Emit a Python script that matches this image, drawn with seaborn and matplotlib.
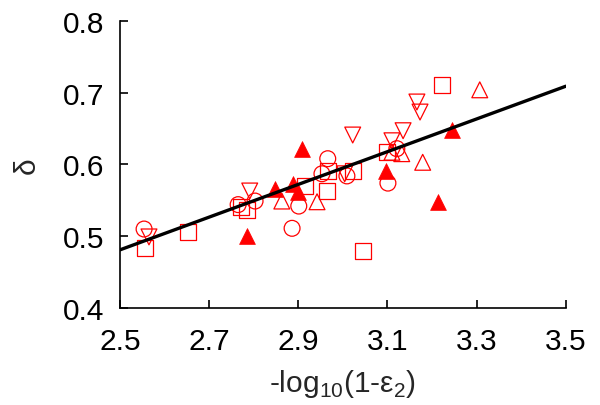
import matplotlib
matplotlib.use("Agg")
import matplotlib.pyplot as plt
import seaborn as sns
import numpy as np

# ---- data ----
circle_x = [2.554, 2.765, 2.803, 2.886, 2.901, 2.953, 2.966, 3.009, 3.101, 3.121]
circle_y = [0.510, 0.544, 0.549, 0.511, 0.542, 0.587, 0.608, 0.584, 0.574, 0.622]

square_x = [2.556, 2.652, 2.771, 2.785, 2.915, 2.964, 2.966, 3.022, 3.099, 3.045, 3.222]
square_y = [0.484, 0.506, 0.541, 0.537, 0.570, 0.563, 0.591, 0.591, 0.617, 0.479, 0.711]

down_x = [2.565, 2.791, 3.022, 3.110, 3.135, 3.166, 3.173, 3.004]
down_y = [0.499, 0.563, 0.641, 0.633, 0.647, 0.687, 0.673, 0.587]

up_x = [2.863, 2.942, 3.110, 3.132, 3.179, 3.307]
up_y = [0.549, 0.548, 0.617, 0.615, 0.603, 0.704]

filled_x = [2.785, 2.848, 2.888, 2.899, 2.908, 3.096, 3.213, 3.244]
filled_y = [0.500, 0.566, 0.573, 0.562, 0.622, 0.591, 0.548, 0.648]

fit_x = [2.5, 3.5]
fit_y = [0.481, 0.709]

x_ticks = [2.5, 2.7, 2.9, 3.1, 3.3, 3.5]
y_ticks = [0.4, 0.5, 0.6, 0.7, 0.8]

sns.set_theme(style="ticks")
plt.rcParams['font.family'] = ['Liberation Sans', 'DejaVu Sans']
plt.rcParams['mathtext.fontset'] = 'custom'
plt.rcParams['mathtext.rm'] = 'Liberation Sans'

fig = plt.figure(figsize=(6.0, 4.06), dpi=100)
ax = fig.add_axes([0.2, 0.239, 0.743, 0.707])

FS = 21.5
S = 130
open_kw = dict(s=S, facecolor='none', edgecolor='red', linewidth=0.9, ax=ax, zorder=2)
sns.scatterplot(x=circle_x, y=circle_y, marker='o', **open_kw)
sns.scatterplot(x=square_x, y=square_y, marker='s', **open_kw)
sns.scatterplot(x=down_x, y=down_y, marker='v', **open_kw)
sns.scatterplot(x=up_x, y=up_y, marker='^', **open_kw)
sns.scatterplot(x=filled_x, y=filled_y, marker='^', s=S, color='red',
                edgecolor='red', linewidth=0.5, ax=ax, zorder=3)
sns.lineplot(x=fit_x, y=fit_y, color='black', linewidth=2.4, ax=ax, zorder=4)

ax.set_xlim(2.5, 3.5)
ax.set_ylim(0.4, 0.8)
ax.set_xticks(x_ticks)
ax.set_yticks(y_ticks)
ax.set_xticklabels([f"{v:.1f}" for v in x_ticks])
ax.set_yticklabels([f"{v:.1f}" for v in y_ticks])
ax.tick_params(direction='in', length=6, width=1.2, labelsize=FS, colors='black')
ax.tick_params(axis='x', pad=14)
ax.tick_params(axis='y', pad=11)
for side in ['top', 'right']:
    ax.spines[side].set_visible(False)
for side in ['left', 'bottom']:
    ax.spines[side].set_linewidth(1.2)
    ax.spines[side].set_color('black')

ax.set_xlabel(r'-log$_\mathregular{10}$(1-ε$_\mathregular{2}$)', fontsize=FS, labelpad=8)
ax.set_ylabel('δ', fontsize=FS, labelpad=16)

fig.savefig('out.png', dpi=100)
